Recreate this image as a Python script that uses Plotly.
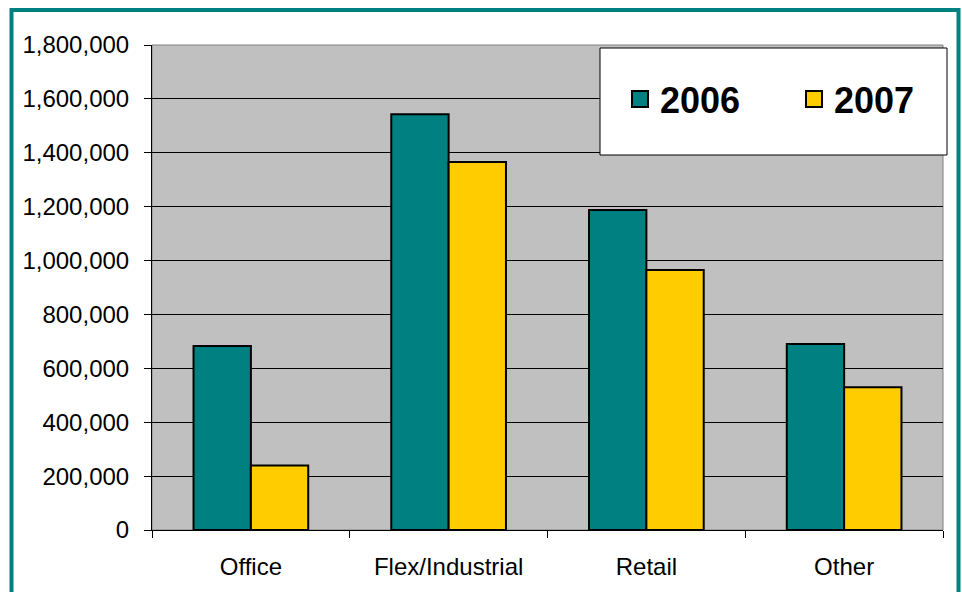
import plotly.graph_objects as go

categories = ["Office", "Flex/Industrial", "Retail", "Other"]
values_2006 = [683000, 1543000, 1188000, 690000]
values_2007 = [239000, 1366000, 965000, 530000]
series_names = ["2006", "2007"]
series_colors = ["#008080", "#FFCC00"]

W, H = 962, 592
L, R, T, B = 152, 19, 45, 62
pw = W - L - R
ph = H - T - B

def px2x(px):
    return (px - L) / pw

def py2y(py):
    return (H - B - py) / ph

font_family = "Liberation Sans, Arial, sans-serif"

fig = go.Figure()
for vals, name, col in zip([values_2006, values_2007], series_names, series_colors):
    fig.add_trace(go.Bar(x=categories, y=vals, name=name, showlegend=False,
                         marker=dict(color=col, line=dict(color="#000000", width=2))))

# legend proxies (larger square swatches)
for i, (name, col) in enumerate(zip(series_names, series_colors)):
    fig.add_trace(go.Scatter(x=[None], y=[None], mode="markers", name=name,
                             legend="legend" if i == 0 else "legend2",
                             marker=dict(symbol="square", size=16, color=col,
                                         line=dict(color="#000000", width=2))))

legend_common = dict(
    xanchor="left", yanchor="middle",
    bgcolor="rgba(0,0,0,0)", borderwidth=0,
    font=dict(family=font_family, size=36, color="#000000", weight="bold"),
    itemsizing="trace",
)

fig.update_layout(
    width=W, height=H,
    margin=dict(l=L, r=R, t=T, b=B, pad=0, autoexpand=False),
    paper_bgcolor="#FFFFFF",
    plot_bgcolor="#C0C0C0",
    barmode="group",
    bargap=0.42,
    bargroupgap=0,
    font=dict(family=font_family, size=24, color="#000000"),
    showlegend=True,
    legend=dict(x=px2x(620), y=py2y(99), **legend_common),
    legend2=dict(x=px2x(794), y=py2y(99), **legend_common),
    xaxis=dict(
        showgrid=False, ticks="outside", tickson="boundaries", ticklen=7,
        tickcolor="#000000", showline=True, linecolor="#000000", linewidth=1,
        ticklabelstandoff=15, tickfont=dict(size=24), automargin=False,
    ),
    yaxis=dict(
        range=[0, 1800000], dtick=200000, tickformat=",d",
        showgrid=True, gridcolor="#000000", gridwidth=1,
        ticks="outside", ticklen=7, tickcolor="#000000",
        showline=True, linecolor="#000000", linewidth=1,
        zeroline=False, ticklabelstandoff=10, tickfont=dict(size=24),
        automargin=False,
    ),
    shapes=[
        dict(type="rect", xref="paper", yref="paper", x0=0, x1=1, y0=0, y1=1,
             line=dict(color="#808080", width=1), fillcolor="rgba(0,0,0,0)", layer="below"),
        dict(type="rect", xref="paper", yref="paper",
             x0=px2x(600), x1=px2x(947), y0=py2y(155), y1=py2y(48),
             line=dict(color="#000000", width=1), fillcolor="#FFFFFF", layer="above"),
        dict(type="rect", xref="paper", yref="paper",
             x0=px2x(11.5), x1=px2x(958.5), y0=py2y(620), y1=py2y(10),
             line=dict(color="#008080", width=4), fillcolor="rgba(0,0,0,0)", layer="above"),
    ],
)

fig.write_html("out.html", config={"displayModeBar": False},
               post_script="document.body.style.margin='0';document.body.style.overflow='hidden';")
